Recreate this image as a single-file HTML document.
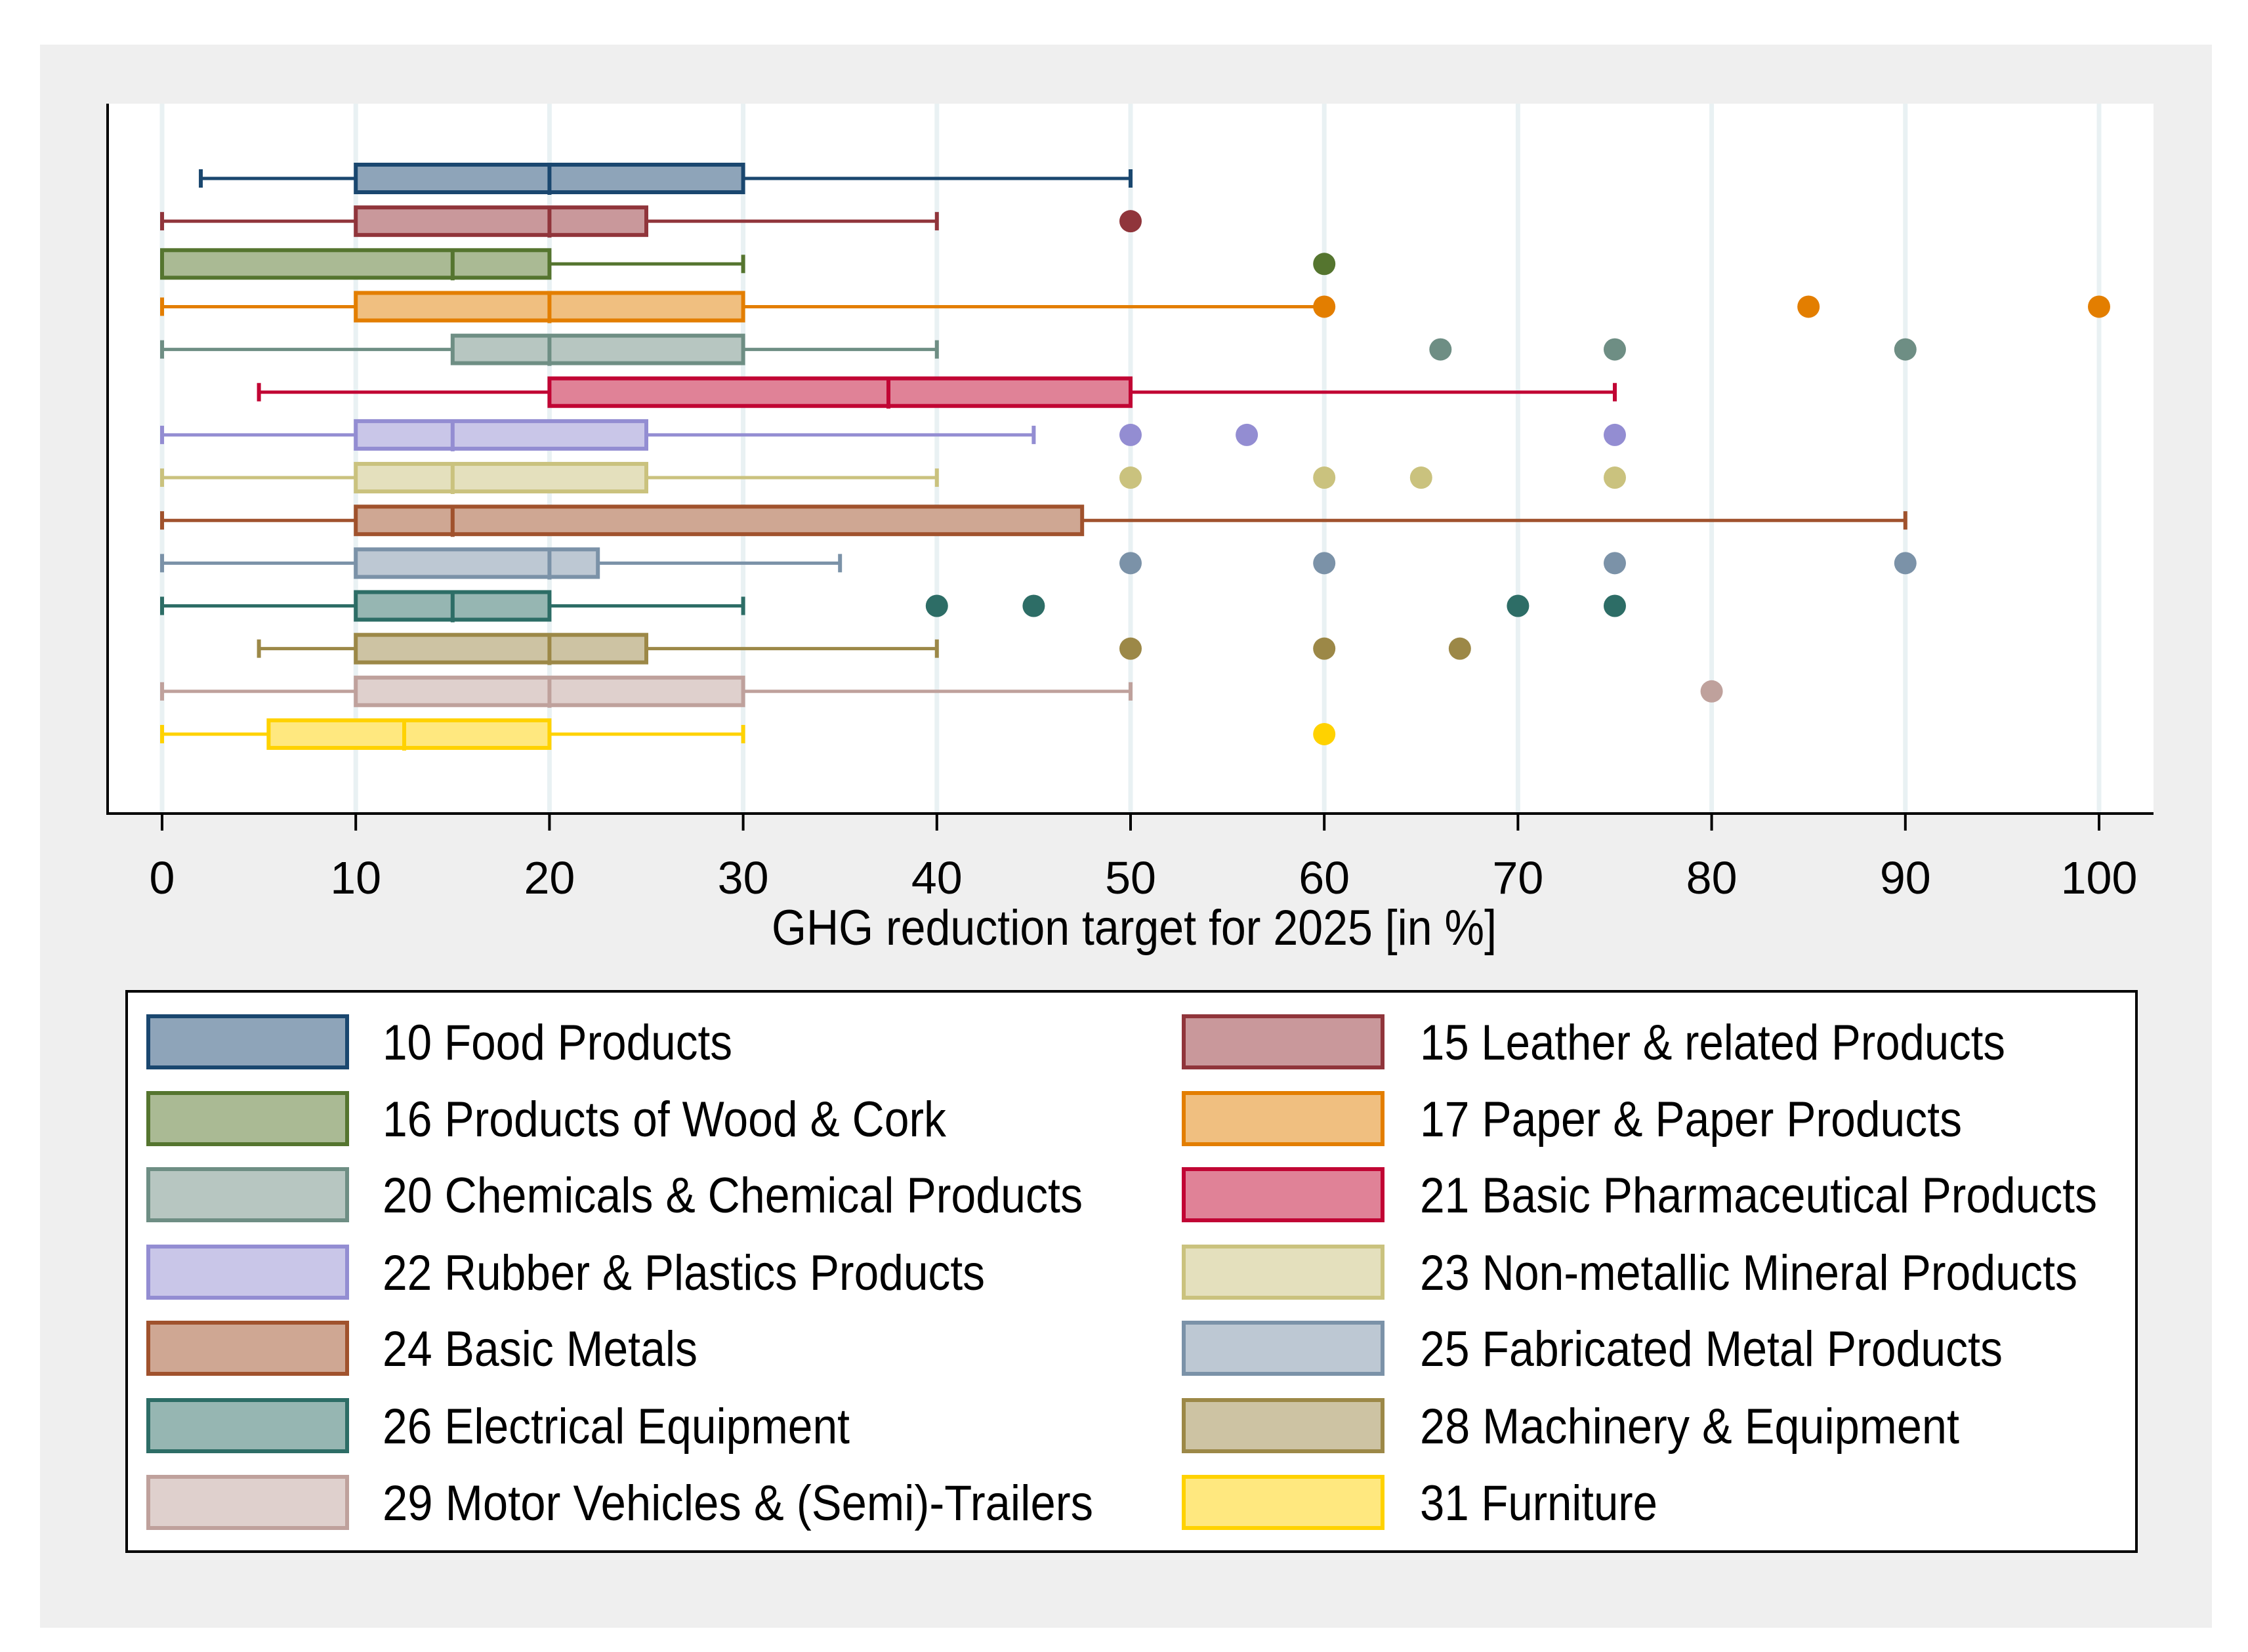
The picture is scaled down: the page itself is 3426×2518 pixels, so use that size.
<!DOCTYPE html>
<html><head><meta charset="utf-8"><style>
html,body{margin:0;padding:0;background:#fff;}
svg{display:block;font-family:"Liberation Sans",Arial,sans-serif;}
</style></head><body>
<svg id="chart" width="3426" height="2518" viewBox="0 0 3426 2518" xmlns="http://www.w3.org/2000/svg">
<rect x="61" y="68" width="3310" height="2413" fill="#efefef"/>
<rect x="164" y="158" width="3118" height="1082" fill="#ffffff"/>
<g id="grid"></g>
<g id="boxes"></g>
<line x1="164" y1="158" x2="164" y2="1242" stroke="#000" stroke-width="4"/>
<line x1="162" y1="1240" x2="3282" y2="1240" stroke="#000" stroke-width="4"/>
<g id="ticks"></g>
<text x="1176" y="1440" font-size="76" textLength="1105" lengthAdjust="spacingAndGlyphs" fill="#000">GHG reduction target for 2025 [in %]</text>
<rect x="193" y="1511" width="3063" height="854" fill="#fff" stroke="#000" stroke-width="4"/>
<g id="legend"></g>
</svg>
<script>
const categories = ["10 Food Products","15 Leather & related Products","16 Products of Wood & Cork","17 Paper & Paper Products","20 Chemicals & Chemical Products","21 Basic Pharmaceutical Products","22 Rubber & Plastics Products","23 Non-metallic Mineral Products","24 Basic Metals","25 Fabricated Metal Products","26 Electrical Equipment","28 Machinery & Equipment","29 Motor Vehicles & (Semi)-Trailers","31 Furniture"];
const whiskerLow = [2,0,0,0,0,5,0,0,0,0,0,5,0,0];
const q1 = [10,10,0,10,15,20,10,10,10,10,10,10,10,5.5];
const median = [20,20,15,20,20,37.5,15,15,15,20,15,20,20,12.5];
const q3 = [30,25,20,30,30,50,25,25,47.5,22.5,20,25,30,20];
const whiskerHigh = [50,40,30,60,40,75,45,40,90,35,30,40,50,30];
const outliers = [[],[50],[60],[60,85,100],[66,75,90],[],[50,56,75],[50,60,65,75],[],[50,60,75,90],[40,45,70,75],[50,60,67],[80],[60]];
const xTicks = [0,10,20,30,40,50,60,70,80,90,100];
const strokeColors = ["#1a476f","#90353b","#55752f","#e37e00","#6e8e84","#c10534","#938dd2","#cac27e","#a0522d","#7b92a8","#2d6d66","#9c8847","#bfa19c","#ffd200"];
const fillColors = ["#8ea4b9","#c9989b","#aaba94","#f0bf80","#b7c6c1","#e08297","#c9c6e8","#e4e0bd","#cfa793","#bdc8d3","#96b6b2","#cdc3a3","#dfd0cd","#ffe87f"];
const legendWidths = [533,892,859,826,1067,1032,918,1002,480,888,712,822,1083,362];

const NS="http://www.w3.org/2000/svg";
function X(v){return 247+v*29.52;}
function Y(i){return 272+i*65.15;}
function mk(tag,attrs,parent){const e=document.createElementNS(NS,tag);for(const k in attrs)e.setAttribute(k,attrs[k]);parent.appendChild(e);return e;}
const grid=document.getElementById('grid'),boxes=document.getElementById('boxes'),ticks=document.getElementById('ticks'),legend=document.getElementById('legend');

xTicks.forEach(t=>{
  const g=mk('line',{x1:X(t),x2:X(t),y1:158,y2:1240,stroke:'#e9f1f3','stroke-width':7},grid);
  
  
  const tm=mk('line',{x1:X(t),x2:X(t),y1:1240,y2:1266,stroke:'#000','stroke-width':4},ticks);
  
  
  const tl=mk('text',{x:X(t),y:1362,'font-size':70,'text-anchor':'middle',fill:'#000'},ticks);
  tl.textContent=String(t);
  
  
});

categories.forEach((c,i)=>{
  const y=Y(i),col=strokeColors[i],fc=fillColors[i];
  const g=mk('g',{},boxes);
  
  
  mk('line',{x1:X(whiskerLow[i]),x2:X(whiskerHigh[i]),y1:y,y2:y,stroke:col,'stroke-width':5},g);
  mk('line',{x1:X(whiskerLow[i]),x2:X(whiskerLow[i]),y1:y-14,y2:y+14,stroke:col,'stroke-width':6},g);
  mk('line',{x1:X(whiskerHigh[i]),x2:X(whiskerHigh[i]),y1:y-14,y2:y+14,stroke:col,'stroke-width':6},g);
  mk('rect',{x:X(q1[i]),y:y-21,width:X(q3[i])-X(q1[i]),height:42,fill:fc,stroke:col,'stroke-width':6},g);
  mk('line',{x1:X(median[i]),x2:X(median[i]),y1:y-21,y2:y+25,stroke:col,'stroke-width':6},g);
  outliers[i].forEach(o=>{
    const d=mk('circle',{cx:X(o),cy:y,r:17,fill:col},g);
    
    
  });
});

const legRowY=[1588,1705,1821,1939,2055,2173,2290];
categories.forEach((c,k)=>{
  const col=k%2,row=Math.floor(k/2);
  const sx=col===0?226:1804, tx=col===0?583:2164, y=legRowY[row];
  const g=mk('g',{},legend);
  
  
  mk('rect',{x:sx,y:y-39,width:303,height:78,fill:fillColors[k],stroke:strokeColors[k],'stroke-width':6},g);
  const t=mk('text',{x:tx,y:y+27,'font-size':76,fill:'#000',textLength:legendWidths[k],lengthAdjust:'spacingAndGlyphs'},g);
  t.textContent=c;
});
</script>
</body></html>
